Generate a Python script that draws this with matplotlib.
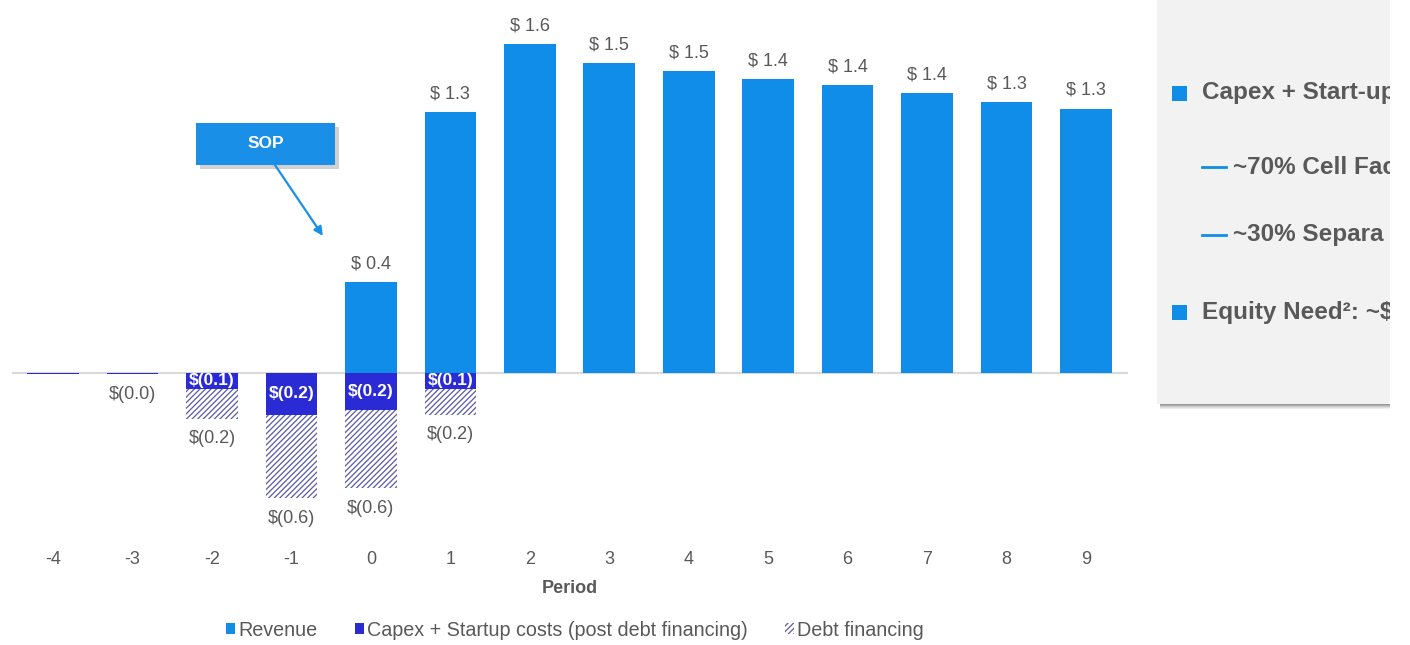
import matplotlib.pyplot as plt
from matplotlib.patches import Rectangle, Patch

plt.rcParams['font.family'] = ['Liberation Sans', 'DejaVu Sans']
plt.rcParams['hatch.linewidth'] = 0.9

# $ bn per period
periods = [-4, -3, -2, -1, 0, 1, 2, 3, 4, 5, 6, 7, 8, 9]
revenue = [0, 0, 0, 0, 0.446, 1.278, 1.611, 1.520, 1.480, 1.441, 1.409, 1.370, 1.330, 1.296]
capex = [0.007, 0.007, 0.078, 0.204, 0.180, 0.078, 0, 0, 0, 0, 0, 0, 0, 0]
debt = [0, 0, 0.146, 0.410, 0.384, 0.126, 0, 0, 0, 0, 0, 0, 0, 0]
total_labeled = [-3, -2, -1, 0, 1]

c_rev = '#0f8de8'
c_capex = '#2b2bd6'
c_debt = '#5a5aa6'
c_text = '#595959'

W, H = 1410, 645
fig = plt.figure(figsize=(W / 100, H / 100), dpi=100)
ax = fig.add_axes([12 / W, (H - 532) / H, 1116 / W, 522 / H])
ax.set_xlim(-4.516, 9.528)
ax.set_ylim(-0.7794, 1.779)

bw = 0.65
neg_capex = [-v for v in capex]
neg_debt = [-v for v in debt]
ax.bar(periods, revenue, width=bw, color=c_rev, zorder=2)
ax.bar(periods, neg_capex, width=bw, color=c_capex, zorder=2)
ax.bar(periods, neg_debt, width=bw, bottom=neg_capex, facecolor='white',
       edgecolor=c_debt, hatch='//////', linewidth=0, zorder=2)
ax.axhline(0, color='#d9d9d9', lw=1.5, zorder=1)

for p, r, c, d in zip(periods, revenue, capex, debt):
    if r > 0:
        ax.annotate(f'$ {r:.1f}', (p, r), xytext=(0, 13), textcoords='offset points',
                    ha='center', va='center', fontsize=13, color=c_text)
    if c >= 0.05:
        ax.text(p, -c / 2, f'$({c:.1f})', ha='center', va='center', fontsize=12.5,
                fontweight='bold', color='white', zorder=3)
    if p in total_labeled:
        ax.annotate(f'$({c + d:.1f})', (p, -(c + d)), xytext=(0, -14.5),
                    textcoords='offset points', ha='center', va='center',
                    fontsize=13, color=c_text)

ax.set_xticks(periods)
ax.set_xticklabels([str(p) for p in periods])
ax.tick_params(axis='x', length=0, pad=13.5, labelsize=13, labelcolor=c_text)
ax.set_yticks([])
for s in ax.spines.values():
    s.set_visible(False)
ax.set_xlabel('Period', fontsize=13, fontweight='bold', color=c_text)
ax.xaxis.set_label_coords(0.5, -0.092)

# SOP callout
ax.add_patch(Rectangle((-2.15, 1.0), 1.748, 0.205, color='#9a9a9a', alpha=0.45,
                       lw=0, zorder=4))
ax.add_patch(Rectangle((-2.201, 1.020), 1.748, 0.205, color='#1a8fe8', lw=0, zorder=5))
ax.text(-1.327, 1.1225, 'SOP', ha='center', va='center', fontsize=12.5,
        fontweight='bold', color='white', zorder=6)
ax.annotate('', xy=(-0.604, 0.672), xytext=(-1.208, 1.02),
            arrowprops=dict(arrowstyle='-|>', color='#1a8fe8', lw=1.6,
                            mutation_scale=13, shrinkA=0, shrinkB=0), zorder=6)

handles = [Patch(facecolor=c_rev, label='Revenue'),
           Patch(facecolor=c_capex, label='Capex + Startup costs (post debt financing)'),
           Patch(facecolor='white', edgecolor=c_debt, hatch='//////', lw=0,
                 label='Debt financing')]
leg = fig.legend(handles=handles, loc='center', ncol=3, frameon=False,
                 bbox_to_anchor=(575 / W, 1 - 630 / H), fontsize=14.2,
                 handlelength=0.45, handleheight=0.45, handletextpad=0.15,
                 columnspacing=1.9)
for t in leg.get_texts():
    t.set_color(c_text)

# side panel with bottom shadow
for i, g in enumerate(['#9a9a9a', '#b0b0b0', '#c8c8c8', '#dddddd', '#eeeeee']):
    fig.patches.append(Rectangle((1160 / W, 1 - (405 + i) / H), 230 / W, 1 / H,
                                 transform=fig.transFigure, color=g, lw=0))
pan = fig.add_axes([1157 / W, (H - 404) / H, 233 / W, 404 / H])
pan.set_facecolor('#f2f2f2')
pan.set_xlim(0, 233)
pan.set_ylim(404, 0)
pan.set_xticks([])
pan.set_yticks([])
for s in pan.spines.values():
    s.set_visible(False)

for y in (93, 312):
    pan.add_patch(Rectangle((15, y - 7.5), 15, 15, color=c_rev, lw=0))
for y in (167, 235):
    pan.plot([45, 69], [y, y], color=c_rev, lw=2)

kw = dict(fontsize=17.5, fontweight='bold', color=c_text, va='center', clip_on=True)
pan.text(45, 93, 'Capex + Start-up', **kw)
pan.text(76, 167, '~70% Cell Fac', **kw)
pan.text(76, 235, '~30% Separa', **kw)
pan.text(45, 312, 'Equity Need²: ~$', **kw)

fig.savefig('out.png', dpi=100)
